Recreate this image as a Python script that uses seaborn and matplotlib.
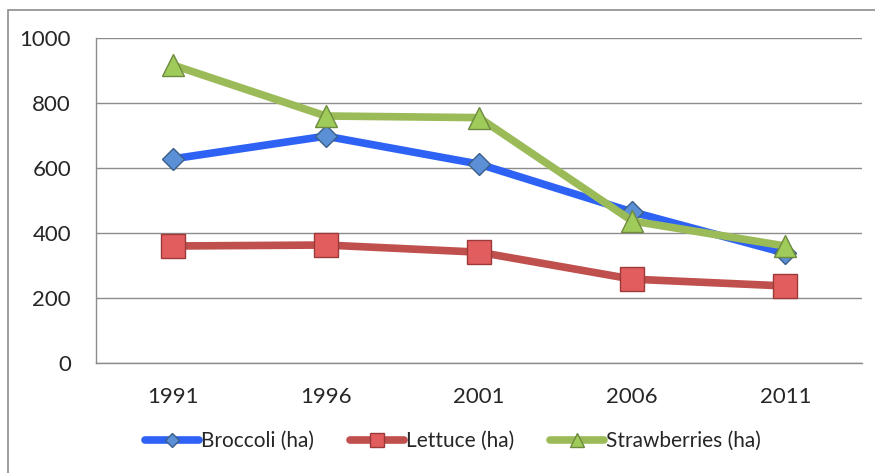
import matplotlib
matplotlib.use("Agg")
import matplotlib.pyplot as plt
from matplotlib.patches import Rectangle
import seaborn as sns
import pandas as pd

years = ["1991", "1996", "2001", "2006", "2011"]
broccoli = [628, 698, 612, 465, 338]
lettuce = [360, 363, 341, 258, 237]
strawberries = [917, 760, 755, 437, 360]
y_ticks = [0, 200, 400, 600, 800, 1000]

sns.set_theme(style="white")
plt.rcParams['font.family'] = ['Lato', 'DejaVu Sans']

fig = plt.figure(figsize=(8.75, 4.73), dpi=100)
ax = fig.add_axes([96/875, 1-363/473, (862-96)/875, (363-38)/473])

fig.patches.append(Rectangle((8/875, -0.02), 1.0, 1-10/473+0.02, transform=fig.transFigure,
                             fill=False, edgecolor='#8c8c8c', linewidth=1.2, zorder=0))

series = [
    ("Broccoli (ha)", broccoli, '#2E62F5', 'D', '#5B8FD6', '#3C5F8A', 11.5),
    ("Lettuce (ha)", lettuce, '#C0504D', 's', '#E25E5E', '#9B3A38', 17),
    ("Strawberries (ha)", strawberries, '#9BBB59', '^', '#9FCB5A', '#6E8A3E', 16.5),
]
pos = list(range(len(years)))
for name, vals, lc, mk, mfc, mec, ms in series:
    df = pd.DataFrame({"x": pos, "y": vals})
    sns.lineplot(data=df, x="x", y="y", ax=ax, color=lc, linewidth=5.5, marker=mk,
                 markersize=ms, markerfacecolor=mfc, markeredgecolor=mec,
                 markeredgewidth=1.0, label=name, zorder=3)

ax.set_xlim(-0.5, len(years) - 0.5)
ax.set_ylim(0, 1000)
ax.set_yticks(y_ticks)
ax.set_yticklabels([str(v) for v in y_ticks], fontsize=16)
ax.set_xticks(pos)
ax.set_xticklabels(years, fontsize=16)
ax.set_xticks([p - 0.5 for p in range(len(years) + 1)], minor=True)
ax.tick_params(axis='x', which='major', length=0, pad=17)
ax.tick_params(axis='x', which='minor', length=6, color='#8c8c8c', width=1, direction='out')
ax.tick_params(axis='y', which='major', length=6, color='#8c8c8c', width=1, direction='out', pad=12)
ax.set_xlabel("")
ax.set_ylabel("")
ax.grid(axis='y', color='#8c8c8c', linewidth=1)
ax.set_axisbelow(True)
for s in ['top', 'right']:
    ax.spines[s].set_visible(False)
for s in ['left', 'bottom']:
    ax.spines[s].set_color('#8c8c8c')
    ax.spines[s].set_linewidth(1)

handles, labels = ax.get_legend_handles_labels()
ax.get_legend().remove()
fig.legend(handles, labels, loc='center', bbox_to_anchor=(453/875, 1-441/473), ncol=3,
           frameon=False, fontsize=15, handlelength=2.6, handletextpad=0.1,
           columnspacing=1.7, markerscale=0.6)

fig.savefig("out.png", dpi=100)
